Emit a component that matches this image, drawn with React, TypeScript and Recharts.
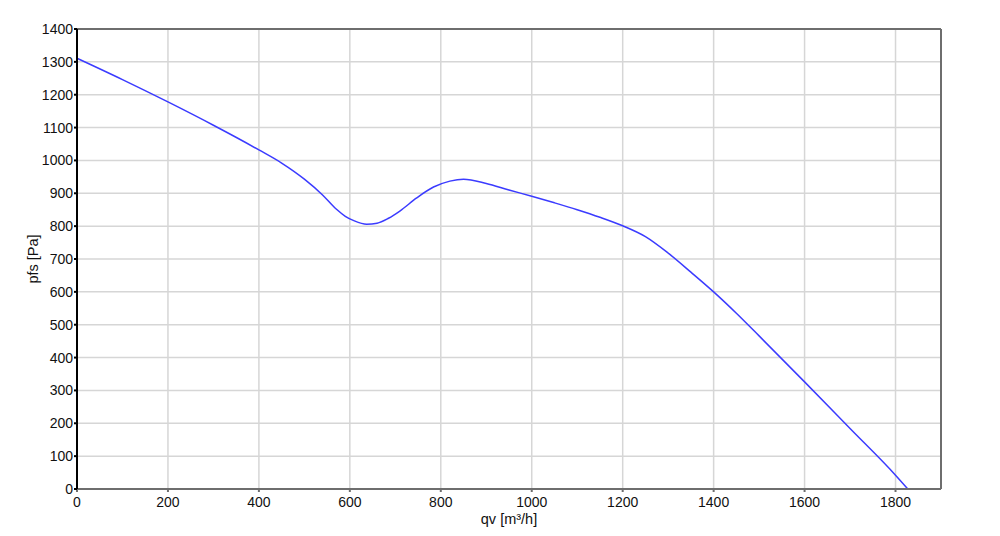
import { LineChart, Line, XAxis, YAxis, CartesianGrid, ReferenceLine } from "recharts"

// flow rate qv [m³/h] and static pressure pfs [Pa]
const qv = [0, 100, 200, 300, 400, 450, 500, 540, 570, 590, 610, 637, 660, 685, 710, 747, 784, 820, 850, 900, 950, 1000, 1050, 1100, 1150, 1200, 1250, 1300, 1350, 1400, 1450, 1500, 1600, 1700, 1800, 1827]
const pfs = [1311, 1246, 1178, 1107, 1032, 992, 943, 895, 852, 830, 816, 806, 809, 824, 846, 886, 919, 937, 943, 930, 910, 891, 871, 850, 827, 801, 768, 718, 660, 600, 535, 466, 326, 184, 42, 0]

const xTicks = [0, 200, 400, 600, 800, 1000, 1200, 1400, 1600, 1800]
const yTicks = [0, 100, 200, 300, 400, 500, 600, 700, 800, 900, 1000, 1100, 1200, 1300, 1400]

const data = qv.map((q, i) => ({ qv: q, pfs: pfs[i] }))

const font = "Arial, 'Liberation Sans', sans-serif"
const tickStyle = { fill: "#111", fontSize: 14, fontFamily: font }

export default function App() {
  return (
    <div style={{ position: "absolute", left: 0, top: 0, width: 1000, height: 536, background: "#fff" }}>
      <LineChart width={1000} height={536} data={data} margin={{ top: 29, right: 59, bottom: 17, left: 17 }}>
        <CartesianGrid stroke="#d6d6d6" strokeWidth={1.5} />
        <XAxis
          dataKey="qv"
          type="number"
          domain={[0, 1900]}
          ticks={xTicks}
          height={30}
          tickSize={3}
          tickMargin={5}
          stroke="#6e6e6e"
          strokeWidth={2}
          tick={tickStyle}
          label={({ viewBox }: any) => (
            <text x={viewBox.x + viewBox.width / 2} y={viewBox.y + 35} textAnchor="middle" fontSize={14.5} fontFamily={font} fill="#111">
              qv [m³/h]
            </text>
          )}
        />
        <YAxis
          type="number"
          domain={[0, 1400]}
          ticks={yTicks}
          width={60}
          tickSize={3}
          tickMargin={1}
          stroke="#000"
          strokeWidth={2}
          tick={tickStyle}
          label={({ viewBox }: any) => {
            const x = viewBox.x + 21
            const y = viewBox.y + viewBox.height / 2
            return (
              <text x={x} y={y} transform={`rotate(-90, ${x}, ${y})`} textAnchor="middle" fontSize={14.5} fontFamily={font} fill="#111">
                pfs [Pa]
              </text>
            )
          }}
        />
        <ReferenceLine y={1400} stroke="#6e6e6e" strokeWidth={2} ifOverflow="extendDomain" />
        <ReferenceLine x={1900} stroke="#6e6e6e" strokeWidth={2} ifOverflow="extendDomain" />
        <Line type="monotone" dataKey="pfs" stroke="#3b3bff" strokeWidth={1.5} dot={false} isAnimationActive={false} />
      </LineChart>
    </div>
  )
}
